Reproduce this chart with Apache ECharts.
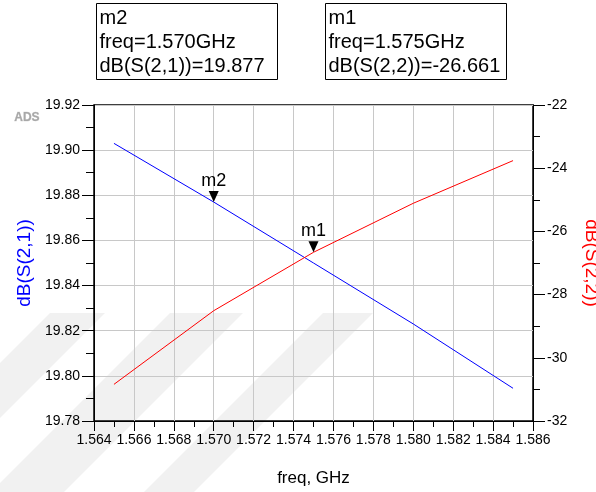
<!DOCTYPE html>
<html><head><meta charset="utf-8">
<script src="https://cdn.jsdelivr.net/npm/echarts@6/dist/echarts.min.js"></script>
<style>html,body{margin:0;padding:0;background:#fff}#c{width:596px;height:492px}</style>
</head><body><div id="c"></div>
<script>
// ---- data ----
const freq = [1.565, 1.570, 1.575, 1.580, 1.585];           // GHz
const dbS21 = [19.903, 19.877, 19.850, 19.823, 19.7945];    // left axis
const dbS22 = [-30.84, -28.51, -26.661, -25.11, -23.76];    // right axis
const markerNames = ['m2', 'm1'];
const markerFreqs = [1.570, 1.575];
const markerValues = [19.877, -26.661];
const markerTraces = ['dB(S(2,1))', 'dB(S(2,2))'];
const xRange = [1.564, 1.586, 0.002];
const yLeftRange = [19.78, 19.92, 0.02];
const yRightRange = [-32, -22, 2];

const FONT = 'Liberation Sans, Arial, sans-serif';
const chart = echarts.init(document.getElementById('c'), null, {renderer: 'canvas'});

function boxText(i) {
  return markerNames[i] + '\nfreq=' + markerFreqs[i].toFixed(3) + 'GHz\n' +
         markerTraces[i] + '=' + markerValues[i].toFixed(3);
}
function box(i, left) {
  return {
    type: 'group', left: left, top: 3,
    children: [
      {type: 'rect', shape: {x: 0, y: 0, width: 181, height: 76},
       style: {fill: '#fff', stroke: '#000', lineWidth: 1}},
      {type: 'text', x: 3, y: 3,
       style: {text: boxText(i), font: '20px ' + FONT, fill: '#000', lineHeight: 24}}
    ]
  };
}
// faint background watermark stripes (decoration)
function stripe(x0, x1) {
  const top = 313, bot = 492, d = bot - top;
  return {type: 'polygon', z: -10, silent: true,
          shape: {points: [[x0, top], [x1, top], [x1 - d, bot], [x0 - d, bot]]},
          style: {fill: '#f1f1f1'}};
}
const tri = 'path://M0,0 L10,0 L5,11 Z';
function mark(i) {
  return {
    symbol: tri, symbolSize: [10, 11], symbolOffset: [0, '-50%'],
    itemStyle: {color: '#000'},
    label: {show: true, position: 'top', distance: 1, formatter: '{b}', color: '#000',
            fontSize: 18, fontFamily: FONT},
    data: [{name: markerNames[i], coord: [markerFreqs[i], markerValues[i]]}]
  };
}
const axisCommon = {
  axisLine: {show: true, onZero: false, lineStyle: {color: '#000', width: 1}},
  axisLabel: {color: '#000', fontSize: 14, fontFamily: FONT},
  nameTextStyle: {fontSize: 18, fontFamily: FONT}
};
chart.setOption({
  animation: false,
  backgroundColor: '#fff',
  grid: {left: 94, right: 63, top: 105, bottom: 71, show: true, borderColor: '#000', borderWidth: 1.5},
  xAxis: Object.assign({}, axisCommon, {
    type: 'value', min: xRange[0], max: xRange[1], interval: xRange[2],
    name: 'freq, GHz', nameLocation: 'middle', nameGap: 49,
    nameTextStyle: {fontSize: 17, fontFamily: FONT, color: '#000'},
    axisLabel: {color: '#000', fontSize: 14, fontFamily: FONT, margin: 12,
                formatter: v => v.toFixed(3)},
    axisTick: {show: true, length: 10, lineStyle: {color: '#000'}},
    minorTick: {show: true, splitNumber: 2, length: 6, lineStyle: {color: '#000'}},
    splitLine: {show: true, lineStyle: {color: '#c8c8c8', width: 1}}
  }),
  yAxis: [
    Object.assign({}, axisCommon, {
      type: 'value', position: 'left', min: yLeftRange[0], max: yLeftRange[1], interval: yLeftRange[2],
      name: 'dB(S(2,1))', nameLocation: 'middle', nameGap: 58, nameRotate: 90,
      nameTextStyle: {fontSize: 19, fontFamily: FONT, color: '#0000ff'},
      axisLabel: {color: '#000', fontSize: 14, fontFamily: FONT, margin: 14,
                  formatter: v => v.toFixed(2)},
      axisTick: {show: true, length: 12, lineStyle: {color: '#000'}},
      minorTick: {show: true, splitNumber: 2, length: 8, lineStyle: {color: '#000'}},
      splitLine: {show: true, lineStyle: {color: '#c8c8c8', width: 1}}
    }),
    Object.assign({}, axisCommon, {
      type: 'value', position: 'right', min: yRightRange[0], max: yRightRange[1], interval: yRightRange[2],
      axisLabel: {color: '#000', fontSize: 14, fontFamily: FONT, margin: 14,
                  formatter: v => String(v)},
      axisTick: {show: true, length: 12, lineStyle: {color: '#000'}},
      minorTick: {show: true, splitNumber: 2, length: 7, lineStyle: {color: '#000'}},
      splitLine: {show: false}
    })
  ],
  graphic: [
    stripe(50, 105), stripe(170, 243), stripe(323, 373),
    box(0, 96), box(1, 325),
    {type: 'text', left: 14, top: 111,
     style: {text: 'ADS', font: 'bold 12px ' + FONT, fill: '#a8a8a8', stroke: '#d0d0d0', lineWidth: 0.5}},
    {type: 'text', x: 591, y: 263, rotation: -Math.PI / 2,
     style: {text: markerTraces[1], font: '19px ' + FONT, fill: '#ff0000',
             textAlign: 'center', textVerticalAlign: 'middle'}}
  ],
  series: [
    {type: 'line', yAxisIndex: 0, data: freq.map((f, i) => [f, dbS21[i]]),
     showSymbol: false, lineStyle: {color: '#0000ff', width: 1}, itemStyle: {color: '#0000ff'},
     markPoint: mark(0)},
    {type: 'line', yAxisIndex: 1, data: freq.map((f, i) => [f, dbS22[i]]),
     showSymbol: false, lineStyle: {color: '#ff0000', width: 1}, itemStyle: {color: '#ff0000'},
     markPoint: mark(1)}
  ]
});
</script></body></html>
